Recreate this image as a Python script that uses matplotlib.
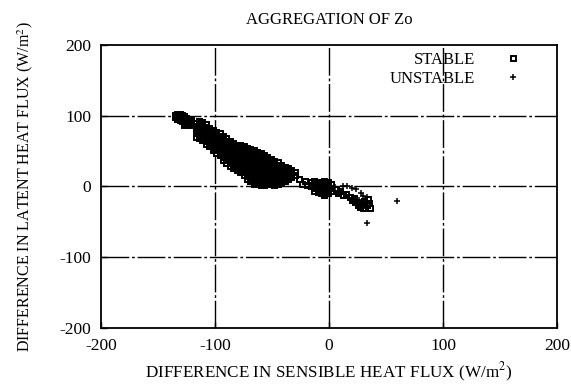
import matplotlib
matplotlib.use("Agg")
import matplotlib.pyplot as plt

plt.rcParams['font.family'] = ['Liberation Serif', 'DejaVu Serif']
plt.rcParams['mathtext.fontset'] = 'stix'
plt.rcParams['axes.unicode_minus'] = False

# ---- data ----
# STABLE points, column by column: x position and the y values found in that column
stable_col_x = [-135, -133, -131, -129, -127, -125, -123, -121,
                -117, -114, -111, -108, -105, -102, -99, -96, -93, -90,
                -87, -84, -81, -78, -75, -72, -69, -66, -63, -60,
                -57, -54, -51, -48, -45, -42, -39, -36, -33, -30,
                -26, -24, -21, -19,
                -16, -13, -10, -7, -4, -1, 2]
stable_col_y = [
    [101, 98], [103, 100, 96], [102, 98, 94], [101, 97, 93], [99, 95, 91, 87], [97, 93, 89], [96, 91, 87], [94, 90],
    [90, 85, 80, 75, 70],
    [93, 88, 83, 78, 73, 68],
    [91, 86, 81, 76, 71, 66],
    [89, 84, 79, 74, 69, 64, 60],
    [82, 77, 72, 67, 62, 57],
    [80, 75, 70, 65, 60, 55, 52],
    [77, 72, 67, 62, 57, 52, 48],
    [75, 70, 65, 60, 55, 50, 45],
    [71, 66, 61, 56, 51, 46, 41, 37],
    [68, 63, 58, 53, 48, 43, 38, 33],
    [64, 59, 54, 49, 44, 39, 34, 29],
    [61, 56, 51, 46, 41, 36, 31, 26],
    [59, 54, 49, 44, 39, 34, 29, 24],
    [58, 53, 48, 43, 38, 33, 28, 23, 20],
    [57, 52, 47, 42, 37, 32, 27, 22, 16],
    [55, 50, 45, 40, 35, 30, 25, 20, 15, 11],
    [53, 48, 43, 38, 33, 28, 23, 18, 13, 8],
    [51, 46, 41, 36, 31, 26, 21, 16, 11, 6, 3],
    [49, 44, 39, 34, 29, 24, 19, 14, 9, 4],
    [47, 42, 37, 32, 27, 22, 17, 12, 7, 2],
    [45, 40, 35, 30, 25, 20, 15, 10, 5, 2],
    [42, 37, 32, 27, 22, 17, 12, 7, 3],
    [39, 34, 29, 24, 19, 14, 9, 4],
    [36, 31, 26, 21, 16, 11, 6, 2],
    [34, 29, 24, 19, 14, 9, 4],
    [31, 26, 21, 16, 11, 6],
    [28, 23, 18, 13, 8],
    [26, 21, 16, 11],
    [24, 19, 14],
    [21, 16],
    [10], [4], [8], [2],
    [6, 1], [8, 3, -2, -6], [7, 2, -3, -8], [6, 1, -4, -9], [8, 3, -2, -7, -12], [6, 1, -4, -9], [3, -2, -6],
]

stable_tail_x = [6, 8, 10, 12, 15, 18, 20, 23, 25, 27, 30, 28, 31, 33, 35, 34, 36, 22]
stable_tail_y = [-4, -9, -7, -12, -10, -15, -19, -22, -26, -29, -31, -24, -20, -26, -23, -17, -30, -16]

unstable_x = [12, 16, 20, 24, 28, 30, 33, 26, 60, 33, -2, 5, 35]
unstable_y = [1, 0, -2, -4, -9, -13, -15, -19, -20, -51, -3, -1, -28]

ticks = [-200, -100, 0, 100, 200]

# ---- build stable series ----
stable_x = []
stable_y = []
for cx, ys in zip(stable_col_x, stable_col_y):
    for yv in ys:
        stable_x.append(cx)
        stable_y.append(yv)
stable_x += stable_tail_x
stable_y += stable_tail_y

fig = plt.figure(figsize=(5.71, 3.85), dpi=100)
ax = fig.add_axes([101/571, 1 - 328/385, 456/571, 283/385])

ax.set_xlim(-200, 200)
ax.set_ylim(-200, 200)
ax.set_xticks(ticks)
ax.set_yticks(ticks)

grid_ls = (0, (20, 2, 2, 2))
for t in [-100, 0, 100]:
    ax.axhline(t, color='black', lw=1.0, ls=grid_ls, zorder=1)
    ax.axvline(t, color='black', lw=1.0, ls=grid_ls, zorder=1)

ax.plot(stable_x, stable_y, ls='none', marker='s', ms=3.6, mew=1.4,
        mfc='none', mec='black', label='STABLE', zorder=3)
ax.plot(unstable_x, unstable_y, ls='none', marker='+', ms=5, mew=1.1,
        color='black', label='UNSTABLE', zorder=3)

for s in ax.spines.values():
    s.set_linewidth(1.3)

ax.tick_params(direction='in', length=4, width=1.0, labelsize=12.5, pad=7)

ax.set_title('AGGREGATION OF Zo', fontsize=12, pad=15)
ax.set_xlabel('DIFFERENCE IN SENSIBLE HEAT FLUX (W/m$^2$)', fontsize=12.3, labelpad=5)
ax.set_ylabel('DIFFERENCE IN LATENT HEAT FLUX (W/m$^2$)', fontsize=11.5, labelpad=18)

ax.legend(loc='upper right', bbox_to_anchor=(0.94, 0.975), frameon=False,
          markerfirst=False, fontsize=12, handlelength=2.0, handletextpad=1.3,
          borderpad=0, borderaxespad=0, labelspacing=0.15)

fig.savefig('out.png', dpi=100)
